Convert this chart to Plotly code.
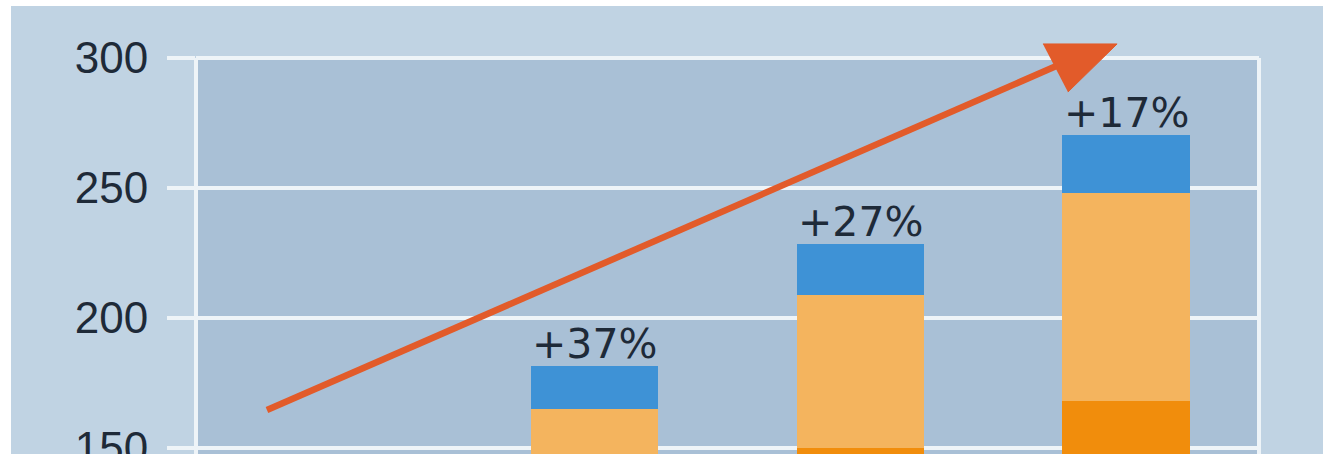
import plotly.graph_objects as go

# ---- data ----
bar_positions = [1, 2, 3]
dark_orange_top = [140, 150, 168]        # bottom segment (bar 1 lies below the visible range)
light_orange_top = [165, 209, 248]       # top of middle segment
blue_top = [181.5, 228.5, 270.5]         # total bar height
pct_labels = ["+37%", "+27%", "+17%"]
y_ticks = [150, 200, 250, 300]

# trend arrow (shaft and head outline), in data units
trend_x = [-0.233, 2.789]
trend_y = [164.6, 299.2]
head_x = [2.687, 2.966, 2.781]
head_y = [305.4, 305.4, 286.9]

# derived segment heights
dark_seg = dark_orange_top
light_seg = [l - d for l, d in zip(light_orange_top, dark_orange_top)]
blue_seg = [b - l for b, l in zip(blue_top, light_orange_top)]

W, H = 1323, 454
ML, MR, MT, MB = 196, 64, 36, 0
X_RANGE = [-0.5, 3.5]
Y_RANGE = [147.69, 308.46]
FRAME_TOP = y_ticks[-1]

OUTER = "#c0d3e3"
PLOT = "#a9c0d6"
GRID = "#eef4f8"
TXT = "#1e2a38"
ARROW = "#e25b2a"

plot_w = W - ML - MR
plot_h = H - MT - MB
frame_top_paper = (FRAME_TOP - Y_RANGE[0]) / (Y_RANGE[1] - Y_RANGE[0])

fig = go.Figure()
fig.add_trace(go.Bar(x=bar_positions, y=dark_seg, marker=dict(color="#f18d0c", line=dict(width=0)),
                     width=0.48, hoverinfo="skip"))
fig.add_trace(go.Bar(x=bar_positions, y=light_seg, marker=dict(color="#f4b45e", line=dict(width=0)),
                     width=0.48, hoverinfo="skip"))
fig.add_trace(go.Bar(x=bar_positions, y=blue_seg, marker=dict(color="#3e92d6", line=dict(width=0)),
                     width=0.48, hoverinfo="skip"))

# trend arrow
fig.add_trace(go.Scatter(
    x=trend_x, y=trend_y, mode="lines", cliponaxis=False,
    line=dict(color=ARROW, width=6.5), hoverinfo="skip"))
fig.add_trace(go.Scatter(
    x=head_x, y=head_y, mode="lines", fill="toself", fillcolor=ARROW,
    line=dict(color=ARROW, width=1), cliponaxis=False, hoverinfo="skip"))

for x, top, lab in zip(bar_positions, blue_top, pct_labels):
    fig.add_annotation(x=x, y=top, text=lab, showarrow=False, yanchor="bottom",
                       xanchor="center", yshift=-4,
                       font=dict(family="DejaVu Sans", size=41, color=TXT))

fig.update_layout(
    width=W, height=H,
    margin=dict(l=ML, r=MR, t=MT, b=MB),
    paper_bgcolor="white", plot_bgcolor=OUTER,
    barmode="stack", bargap=0, showlegend=False,
    shapes=[
        dict(type="rect", xref="paper", yref="paper", x0=(11 - ML) / plot_w, x1=1.1,
             y0=-0.05, y1=(H - 6) / plot_h, fillcolor=OUTER, line=dict(width=0),
             layer="below"),
        dict(type="rect", xref="paper", yref="paper", x0=0, x1=1, y0=-0.05, y1=frame_top_paper,
             fillcolor=PLOT, line=dict(width=0), layer="below"),
        dict(type="line", xref="paper", yref="paper", x0=0, x1=0, y0=-0.05, y1=frame_top_paper,
             line=dict(color=GRID, width=4), layer="below"),
        dict(type="line", xref="paper", yref="paper", x0=1, x1=1, y0=-0.05, y1=frame_top_paper,
             line=dict(color=GRID, width=4), layer="below"),
    ],
    xaxis=dict(range=X_RANGE, showgrid=False, zeroline=False, showticklabels=False,
               showline=False, fixedrange=True),
    yaxis=dict(range=Y_RANGE, tickvals=y_ticks, showgrid=True, gridcolor=GRID,
               gridwidth=4, zeroline=False, showline=False,
               ticks="outside", ticklen=28, tickwidth=4, tickcolor=GRID,
               tickfont=dict(family="Liberation Sans", size=44, color=TXT),
               ticklabelstandoff=10, ticklabeloverflow="allow", automargin=False),
)

fig.write_html("out.html")
